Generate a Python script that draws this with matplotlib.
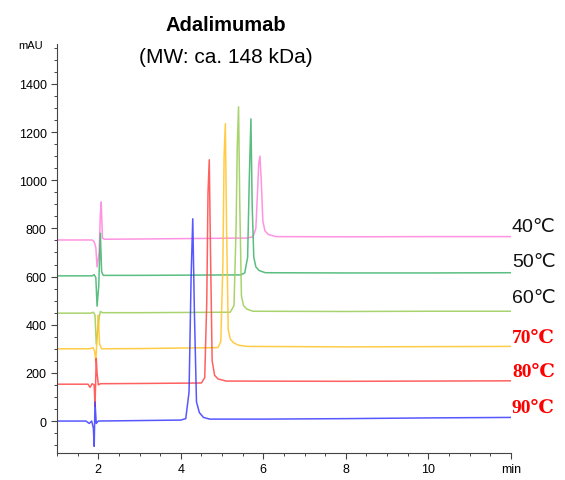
import matplotlib
matplotlib.use("Agg")
import matplotlib.pyplot as plt
from matplotlib.ticker import MultipleLocator

# points (time in min, signal in mAU)
t90 = [1.0, 1.7, 1.78, 1.84, 1.88, 1.9, 1.92, 1.95, 2.0, 3.0, 4.0, 4.12, 4.2, 4.25, 4.29, 4.33, 4.38, 4.45, 4.55, 4.7, 6.0, 8.0, 10.0, 12.0]
v90 = [0, 0, -10, 0, -30, -105, 79, -10, 0, 2, 4, 10, 120, 600, 840, 450, 80, 35, 15, 8, 8, 10, 13, 15]

t80 = [1.0, 1.75, 1.8, 1.85, 1.9, 1.92, 1.95, 1.97, 2.0, 2.05, 3.0, 4.5, 4.58, 4.63, 4.66, 4.69, 4.72, 4.76, 4.82, 4.9, 5.1, 8.0, 10.0, 12.0]
v80 = [153, 153, 140, 155, 150, 60, 260, 200, 150, 155, 156, 158, 180, 500, 950, 1085, 700, 250, 190, 175, 166, 165, 166, 167]

t70 = [1.0, 1.8, 1.87, 1.91, 1.94, 1.98, 2.0, 2.03, 2.08, 3.0, 4.9, 4.97, 5.02, 5.05, 5.08, 5.11, 5.15, 5.2, 5.28, 5.4, 5.6, 8.0, 10.0, 12.0]
v70 = [300, 300, 305, 290, 250, 380, 440, 320, 300, 301, 305, 330, 650, 1100, 1235, 800, 380, 340, 325, 315, 310, 308, 309, 310]

t60 = [1.0, 1.82, 1.88, 1.92, 1.95, 1.99, 2.02, 2.05, 2.1, 3.0, 5.2, 5.29, 5.34, 5.37, 5.4, 5.43, 5.47, 5.52, 5.6, 5.75, 8.0, 10.0, 12.0]
v60 = [448, 448, 452, 440, 320, 380, 430, 455, 450, 450, 452, 480, 800, 1150, 1305, 900, 520, 480, 465, 456, 455, 456, 456]

t50 = [1.0, 1.85, 1.9, 1.94, 1.97, 2.01, 2.05, 2.08, 2.12, 3.0, 5.45, 5.55, 5.62, 5.66, 5.7, 5.73, 5.77, 5.82, 5.9, 6.05, 8.0, 10.0, 12.0]
v50 = [603, 603, 608, 595, 477, 560, 780, 620, 605, 605, 607, 615, 680, 1000, 1255, 900, 680, 640, 625, 616, 615, 615, 616]

t40 = [1.0, 1.85, 1.9, 1.94, 1.97, 2.02, 2.05, 2.07, 2.1, 2.15, 3.0, 5.6, 5.75, 5.82, 5.86, 5.89, 5.92, 5.95, 5.99, 6.04, 6.12, 6.3, 8.0, 10.0, 12.0]
v40 = [752, 752, 745, 720, 640, 700, 860, 910, 760, 755, 756, 760, 765, 800, 950, 1070, 1100, 1000, 830, 790, 775, 766, 765, 766, 766]

labels = ["40℃", "50℃", "60℃", "70℃", "80℃", "90℃"]
label_y = [809, 664, 514, 349, 207, 58]
colors = ["#ff80dd", "#3cb36a", "#99cc55", "#ffc428", "#ff4545", "#3a3aff"]

traces = [(t40, v40), (t50, v50), (t60, v60), (t70, v70), (t80, v80), (t90, v90)]

fig = plt.figure(figsize=(5.65, 4.81), dpi=100)
ax = fig.add_axes([0.101, 0.056, 0.803, 0.850])

for (t, v), c in zip(traces, colors):
    ax.plot(t, v, color=c, lw=1.1, alpha=0.85)

ax.set_xlim(1, 12)
ax.set_ylim(-133, 1565)
ax.spines["top"].set_visible(False)
ax.spines["right"].set_visible(False)
ax.spines["left"].set_color("#444444")
ax.spines["bottom"].set_color("#444444")

ax.set_xticks([2, 4, 6, 8, 10, 12])
ax.set_xticklabels(["2", "4", "6", "8", "10", "min"])
ax.xaxis.set_minor_locator(MultipleLocator(0.5))
ax.set_yticks(range(0, 1600, 200))
ax.yaxis.set_minor_locator(MultipleLocator(50))
ax.tick_params(which="major", length=4, width=0.8, color="#444444", labelsize=9)
ax.tick_params(which="minor", length=2.5, width=0.7, color="#444444")
for lab in ax.get_xticklabels() + ax.get_yticklabels():
    lab.set_family("Liberation Sans")

fig.text(0.055, 0.905, "mAU", fontsize=8, family="Liberation Sans", ha="center", va="center")
fig.text(0.400, 0.947, "Adalimumab", fontsize=14.5, fontweight="bold",
         family="Liberation Sans", ha="center", va="center")
fig.text(0.400, 0.880, "(MW: ca. 148 kDa)", fontsize=15,
         family="Liberation Sans", ha="center", va="center")

for i, (s, y) in enumerate(zip(labels, label_y)):
    if i < 3:
        ax.text(12.03, y, s, fontsize=14, color="#111111", ha="left", va="center",
                family=["Liberation Sans", "DejaVu Sans"], clip_on=False)
    else:
        ax.text(12.03, y, s, fontsize=14, color="#ff0000", fontweight="bold",
                ha="left", va="center",
                family=["Liberation Serif", "DejaVu Serif"], clip_on=False)

fig.savefig("out.png", dpi=100)
